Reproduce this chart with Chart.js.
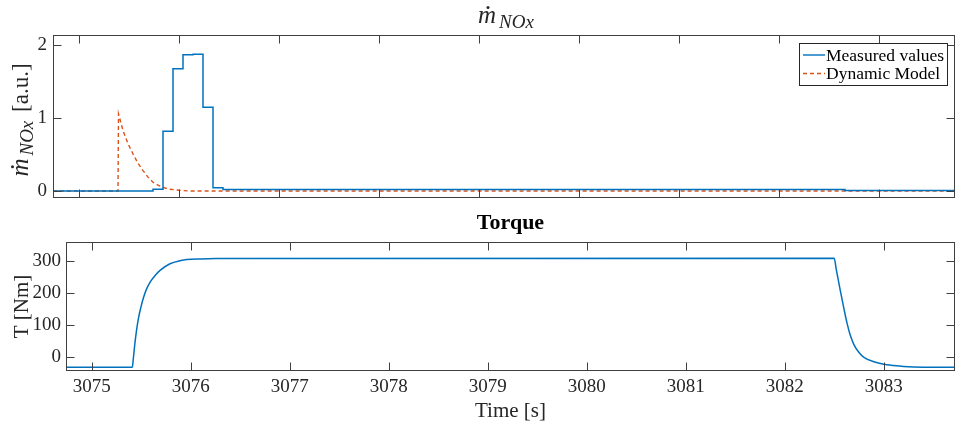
<!DOCTYPE html>
<html>
<head>
<meta charset="utf-8">
<script src="https://cdn.jsdelivr.net/npm/chart.js@4.4.1/dist/chart.umd.min.js"></script>
<style>
  html, body { margin: 0; padding: 0; background: #fff; }
  #wrap { position: relative; width: 955px; height: 424px; }
  #noxChart { position: absolute; left: 0; top: 0; }
  #torqueChart { position: absolute; left: 0; top: 205px; }
</style>
</head>
<body>
<div id="wrap">
  <canvas id="noxChart" width="955" height="209"></canvas>
  <canvas id="torqueChart" width="955" height="219"></canvas>
</div>
<script>
// NOx mass flow, measured (zero-order hold samples)
const measTime = [3074.74, 3075.74, 3075.84, 3075.94, 3076.04, 3076.14, 3076.24, 3076.34, 3076.44, 3082.66, 3083.76];
const measNox  = [0.0, 0.025, 0.82, 1.68, 1.87, 1.88, 1.15, 0.045, 0.02, 0.005, 0.005];

// NOx mass flow, dynamic model
const modelTime = [3074.74, 3075.39, 3075.395, 3075.44, 3075.49, 3075.54, 3075.59, 3075.64, 3075.69, 3075.74, 3075.79, 3075.84, 3075.9, 3076.0, 3076.1, 3083.76];
const modelNox  = [0.0, 0.0, 1.06, 0.83, 0.65, 0.51, 0.38, 0.28, 0.19, 0.12, 0.08, 0.05, 0.025, 0.01, 0.0, 0.0];

// torque
const torqueTime = [3074.74, 3075.41, 3075.42, 3075.435, 3075.45, 3075.47, 3075.5, 3075.52, 3075.55, 3075.59, 3075.64, 3075.69, 3075.79, 3075.9, 3075.96, 3076.1, 3076.26,
                    3082.5, 3082.52, 3082.54, 3082.56, 3082.6, 3082.63, 3082.66, 3082.7, 3082.75, 3082.8, 3082.9, 3083.0, 3083.1, 3083.2, 3083.4, 3083.72];
const torqueVal  = [-32, -32, -5, 40, 78, 118, 160, 183, 210, 234, 255, 271, 292, 302, 305, 307, 308,
                    309, 275, 243, 210, 148, 105, 70, 38, 14, -1, -15, -23, -27, -30, -32, -32];

const xTicks = [3075, 3076, 3077, 3078, 3079, 3080, 3081, 3082, 3083];
const noxTicks = [0, 1, 2];
const torqueTicks = [0, 100, 200, 300];

const BLUE = '#0072BD';
const ORANGE = '#D95319';
const AXIS = '#404040';
const TEXT = '#262626';
const SERIF = '"Liberation Serif", "Times New Roman", serif';

Chart.defaults.font.family = SERIF;
Chart.defaults.color = TEXT;

function pts(xs, ys) {
  return xs.map((x, i) => ({ x: x, y: ys[i] }));
}

// box round the axes and inward tick marks, like matlab
function drawBox(chart) {
  const ctx = chart.ctx;
  const a = chart.chartArea;
  const sx = chart.scales.x, sy = chart.scales.y;
  ctx.save();
  ctx.strokeStyle = AXIS;
  ctx.lineWidth = 1;
  const L = Math.round(a.left) + 0.5, R = Math.round(a.right) - 0.5;
  const T = Math.round(a.top) + 0.5, B = Math.round(a.bottom) - 0.5;
  ctx.strokeRect(L, T, R - L, B - T);
  ctx.beginPath();
  sx.ticks.forEach(t => {
    const x = Math.round(sx.getPixelForValue(t.value)) + 0.5;
    ctx.moveTo(x, B); ctx.lineTo(x, B - 8);
    ctx.moveTo(x, T); ctx.lineTo(x, T + 8);
  });
  sy.ticks.forEach(t => {
    const y = Math.round(sy.getPixelForValue(t.value)) + 0.5;
    ctx.moveTo(L, y); ctx.lineTo(L + 8, y);
    ctx.moveTo(R, y); ctx.lineTo(R - 8, y);
  });
  ctx.stroke();
  ctx.restore();
}

// m-dot with subscript NOx, drawn from the baseline start
function mdotWidth(ctx) {
  ctx.font = 'italic 25px ' + SERIF;
  const wm = ctx.measureText('m').width;
  ctx.font = 'italic 19px ' + SERIF;
  return wm + 3 + ctx.measureText('NOx').width;
}
function drawMdot(ctx, x, y) {
  ctx.font = 'italic 25px ' + SERIF;
  ctx.textAlign = 'left';
  ctx.textBaseline = 'alphabetic';
  ctx.fillText('m', x, y);
  const wm = ctx.measureText('m').width;
  ctx.beginPath();
  ctx.arc(x + wm * 0.55, y - 15.5, 1.5, 0, Math.PI * 2);
  ctx.fill();
  ctx.font = 'italic 19px ' + SERIF;
  ctx.fillText('NOx', x + wm + 3, y + 5);
  return wm + 3 + ctx.measureText('NOx').width;
}

const noxDecor = {
  id: 'noxDecor',
  afterDraw(chart) {
    const ctx = chart.ctx;
    const a = chart.chartArea;
    drawBox(chart);
    ctx.save();
    ctx.fillStyle = TEXT;
    // title
    const w = mdotWidth(ctx);
    drawMdot(ctx, (a.left + a.right) / 2 - w / 2 + 2, 23);
    // y label
    ctx.save();
    ctx.translate(28, 120);
    ctx.rotate(-Math.PI / 2);
    ctx.font = '23px ' + SERIF;
    const tail = ' [a.u.]';
    const wt = ctx.measureText(tail).width;
    const total = w + wt + 3;
    const wd = drawMdot(ctx, -total / 2, 0);
    ctx.font = '23px ' + SERIF;
    ctx.fillText(tail, -total / 2 + wd + 3, 0);
    ctx.restore();
    // legend
    const lx = 799.5, ly = 43.5, lw = 148, lh = 42;
    ctx.fillStyle = '#fff';
    ctx.fillRect(lx, ly, lw, lh);
    ctx.strokeStyle = TEXT;
    ctx.lineWidth = 1;
    ctx.strokeRect(lx, ly, lw, lh);
    const rows = chart.data.datasets;
    rows.forEach((ds, i) => {
      const yy = 55 + i * 18.5;
      ctx.beginPath();
      ctx.strokeStyle = ds.borderColor;
      ctx.lineWidth = 1.4;
      ctx.setLineDash(ds.borderDash || []);
      ctx.moveTo(803, yy); ctx.lineTo(825, yy);
      ctx.stroke();
      ctx.setLineDash([]);
      ctx.fillStyle = '#000';
      ctx.font = '17.5px ' + SERIF;
      ctx.textBaseline = 'middle';
      ctx.fillText(ds.label, 826, yy + 1);
    });
    ctx.restore();
  }
};

const torqueDecor = {
  id: 'torqueDecor',
  afterDraw(chart) {
    const ctx = chart.ctx;
    const a = chart.chartArea;
    drawBox(chart);
    ctx.save();
    ctx.fillStyle = '#000';
    ctx.textAlign = 'center';
    ctx.textBaseline = 'alphabetic';
    ctx.font = 'bold 22px ' + SERIF;
    ctx.fillText('Torque', (a.left + a.right) / 2, 24);
    ctx.fillStyle = TEXT;
    ctx.font = '21px ' + SERIF;
    ctx.fillText('Time [s]', (a.left + a.right) / 2, 212);
    ctx.translate(28, (a.top + a.bottom) / 2);
    ctx.rotate(-Math.PI / 2);
    ctx.fillText('T [Nm]', 0, 0);
    ctx.restore();
  }
};

function fixedTicks(list) {
  return scale => { scale.ticks = list.map(v => ({ value: v })); };
}

new Chart(document.getElementById('noxChart'), {
  type: 'line',
  data: {
    datasets: [
      { label: 'Measured values', data: pts(measTime, measNox), borderColor: BLUE, borderWidth: 1.5,
        stepped: true, pointRadius: 0, fill: false },
      { label: 'Dynamic Model', data: pts(modelTime, modelNox), borderColor: ORANGE, borderWidth: 1.4,
        borderDash: [4, 3], pointRadius: 0, fill: false, tension: 0 }
    ]
  },
  options: {
    responsive: false,
    animation: false,
    devicePixelRatio: 1,
    layout: { padding: { top: 35, right: 0, left: 0, bottom: 0 } },
    plugins: { legend: { display: false }, tooltip: { enabled: false } },
    scales: {
      x: {
        type: 'linear', min: 3074.74, max: 3083.76,
        afterBuildTicks: fixedTicks(xTicks),
        afterFit: s => { s.height = 3; },
        grid: { display: false, drawTicks: false }, border: { display: false },
        ticks: { display: false }
      },
      y: {
        min: -0.1, max: 2.143,
        afterBuildTicks: fixedTicks(noxTicks),
        afterFit: s => { s.width = 53; },
        grid: { display: false, drawTicks: false }, border: { display: false },
        ticks: { padding: 6, font: { size: 19, lineHeight: 0.5 }, color: TEXT, callback: v => String(v) }
      }
    }
  },
  plugins: [noxDecor]
});

new Chart(document.getElementById('torqueChart'), {
  type: 'line',
  data: {
    datasets: [
      { label: 'Torque', data: pts(torqueTime, torqueVal), borderColor: BLUE, borderWidth: 1.5,
        pointRadius: 0, fill: false, cubicInterpolationMode: 'monotone' }
    ]
  },
  options: {
    responsive: false,
    animation: false,
    devicePixelRatio: 1,
    layout: { padding: { top: 37, right: 0, left: 0, bottom: 0 } },
    plugins: { legend: { display: false }, tooltip: { enabled: false } },
    scales: {
      x: {
        type: 'linear', min: 3074.74, max: 3083.72,
        afterBuildTicks: fixedTicks(xTicks),
        afterFit: s => { s.height = 53; },
        grid: { display: false, drawTicks: false }, border: { display: false },
        ticks: { padding: 5, font: { size: 19 }, color: TEXT, maxRotation: 0, autoSkip: false, callback: v => String(v) }
      },
      y: {
        min: -44, max: 360,
        afterBuildTicks: fixedTicks(torqueTicks),
        afterFit: s => { s.width = 66; },
        grid: { display: false, drawTicks: false }, border: { display: false },
        ticks: { padding: 5, font: { size: 19, lineHeight: 0.5 }, color: TEXT, callback: v => String(v) }
      }
    }
  },
  plugins: [torqueDecor]
});
</script>
</body>
</html>
